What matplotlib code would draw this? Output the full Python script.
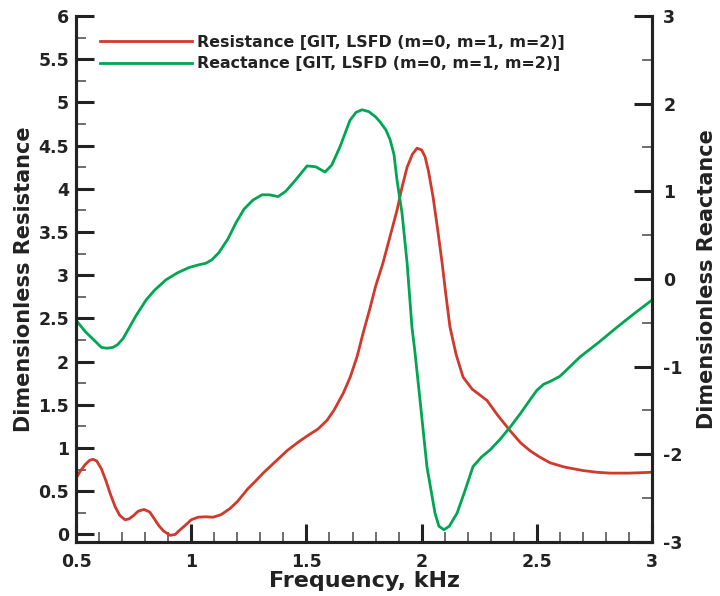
import matplotlib.pyplot as plt
from matplotlib.ticker import MultipleLocator

plt.rcParams['font.family'] = ['DejaVu Sans']
plt.rcParams['font.weight'] = 'bold'
plt.rcParams['axes.unicode_minus'] = False

# resistance curve (left axis)
freq_r = [0.50, 0.52, 0.54, 0.56, 0.574, 0.59, 0.61, 0.63, 0.65, 0.67, 0.69,
          0.713, 0.73, 0.75, 0.77, 0.795, 0.82, 0.84, 0.86, 0.88, 0.908, 0.93,
          0.95, 0.98, 1.00, 1.03, 1.06, 1.095, 1.13, 1.168, 1.20, 1.246, 1.28,
          1.312, 1.36, 1.416, 1.46, 1.503, 1.55, 1.589, 1.62, 1.659, 1.69,
          1.72, 1.746, 1.776, 1.80, 1.832, 1.86, 1.893, 1.915, 1.937, 1.96,
          1.98, 2.00, 2.015, 2.03, 2.05, 2.07, 2.089, 2.105, 2.123, 2.15,
          2.18, 2.22, 2.25, 2.284, 2.33, 2.384, 2.43, 2.47, 2.51, 2.557, 2.62,
          2.70, 2.76, 2.818, 2.90, 3.00]
resistance = [0.65, 0.74, 0.81, 0.86, 0.87, 0.85, 0.76, 0.62, 0.46, 0.32, 0.22,
              0.17, 0.18, 0.22, 0.27, 0.29, 0.26, 0.18, 0.10, 0.04, -0.01, 0.00,
              0.05, 0.12, 0.17, 0.20, 0.205, 0.20, 0.23, 0.30, 0.38, 0.53, 0.62,
              0.71, 0.83, 0.97, 1.06, 1.14, 1.22, 1.32, 1.44, 1.63, 1.82,
              2.06, 2.33, 2.62, 2.87, 3.14, 3.42, 3.75, 4.02, 4.25, 4.40,
              4.47, 4.45, 4.37, 4.20, 3.90, 3.52, 3.14, 2.78, 2.40, 2.08,
              1.82, 1.68, 1.62, 1.55, 1.38, 1.20, 1.06, 0.97, 0.90, 0.83, 0.78,
              0.74, 0.72, 0.71, 0.71, 0.72]

# reactance curve (right axis)
freq_x = [0.50, 0.54, 0.587, 0.61, 0.634, 0.66, 0.68, 0.704, 0.73, 0.76, 0.804,
          0.84, 0.89, 0.94, 0.99, 1.03, 1.064, 1.09, 1.12, 1.16, 1.194, 1.23,
          1.268, 1.307, 1.34, 1.377, 1.41, 1.45, 1.503, 1.54, 1.581, 1.61,
          1.646, 1.689, 1.715, 1.741, 1.77, 1.80, 1.82, 1.845, 1.863, 1.88,
          1.893, 1.915, 1.937, 1.958, 1.97, 1.993, 2.023, 2.058, 2.075, 2.097,
          2.12, 2.154, 2.19, 2.223, 2.26, 2.297, 2.34, 2.384, 2.43, 2.47, 2.50,
          2.53, 2.557, 2.60, 2.64, 2.687, 2.77, 2.848, 2.92, 3.00]
reactance = [-0.47, -0.60, -0.72, -0.78, -0.79, -0.78, -0.75, -0.68, -0.56, -0.42, -0.24,
             -0.13, -0.01, 0.07, 0.13, 0.16, 0.18, 0.22, 0.30, 0.46, 0.64, 0.80,
             0.90, 0.96, 0.96, 0.94, 1.00, 1.12, 1.29, 1.28, 1.22, 1.30,
             1.51, 1.81, 1.90, 1.93, 1.91, 1.85, 1.79, 1.70, 1.59, 1.42,
             1.13, 0.75, 0.18, -0.55, -0.81, -1.38, -2.14, -2.67, -2.82, -2.86,
             -2.82, -2.67, -2.40, -2.14, -2.03, -1.95, -1.83, -1.69, -1.53, -1.38, -1.27,
             -1.20, -1.17, -1.11, -1.01, -0.89, -0.72, -0.55, -0.40, -0.24]

red = '#d0392b'
green = '#00a651'
ink = '#222222'

fig = plt.figure(figsize=(7.2, 5.96), dpi=100)
ax = fig.add_axes([0.1056, 0.0906, 0.8, 0.8826])
ax2 = ax.twinx()

l1, = ax.plot(freq_r, resistance, color=red, lw=2,
              label='Resistance [GIT, LSFD (m=0, m=1, m=2)]')
l2, = ax2.plot(freq_x, reactance, color=green, lw=2,
               label='Reactance [GIT, LSFD (m=0, m=1, m=2)]')

ax.set_xlim(0.5, 3)
ax.set_ylim(-0.087, 6)
ax2.set_ylim(-3, 3)

ax.xaxis.set_minor_locator(MultipleLocator(0.1))
ax.yaxis.set_minor_locator(MultipleLocator(0.25))
ax2.yaxis.set_major_locator(MultipleLocator(1))
ax2.yaxis.set_minor_locator(MultipleLocator(0.5))
ax.set_xticks([0.5, 1, 1.5, 2, 2.5, 3], ['0.5', '1', '1.5', '2', '2.5', '3'])
ax.set_yticks([0, 0.5, 1, 1.5, 2, 2.5, 3, 3.5, 4, 4.5, 5, 5.5, 6],
              ['0', '0.5', '1', '1.5', '2', '2.5', '3', '3.5', '4', '4.5', '5', '5.5', '6'])

for a in (ax, ax2):
    a.spines['top'].set_visible(False)
    for s in a.spines.values():
        s.set_linewidth(2.2)
        s.set_color(ink)
    a.tick_params(which='major', direction='in', length=13, width=2.2,
                  labelsize=12.5, color=ink, labelcolor=ink, pad=8)
    a.tick_params(which='minor', direction='in', length=7, width=1.2,
                  color='#555555')
ax.tick_params(axis='y', which='major', pad=5)

ax.set_xlabel('Frequency, kHz', fontsize=16, fontweight='bold', labelpad=0,
              color=ink)
ax.set_ylabel('Dimensionless Resistance', fontsize=15, fontweight='bold',
              labelpad=3, color=ink)
ax2.set_ylabel('Dimensionless Reactance', fontsize=15, fontweight='bold',
               labelpad=10, color=ink)

fig.legend(handles=[l1, l2], loc='upper left', bbox_to_anchor=(0.128, 0.955),
           frameon=False, fontsize=11.4, handlelength=5.8, handletextpad=0.3,
           labelspacing=0.4, borderpad=0, labelcolor=ink)

plt.savefig('out.png', dpi=100)
